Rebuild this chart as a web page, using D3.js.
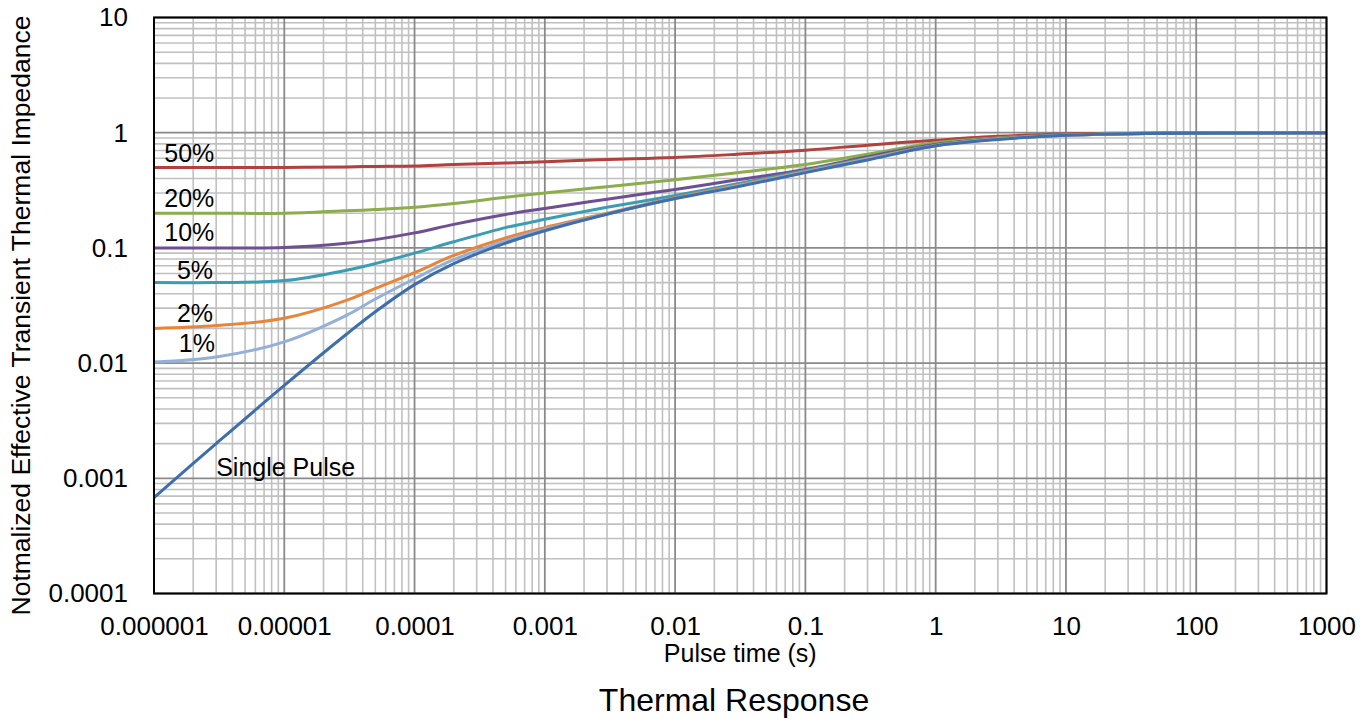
<!DOCTYPE html>
<html>
<head>
<meta charset="utf-8">
<script src="https://cdn.jsdelivr.net/npm/d3@7"></script>
<style>
  html, body { margin: 0; padding: 0; background: #fff; }
  svg { display: block; font-family: "Liberation Sans", Arial, sans-serif; }
</style>
</head>
<body>
<svg id="chart" width="1370" height="722"></svg>
<script>
// Pulse times (s) at which the curves are sampled
const pulseTimes = [1e-6, 3e-6, 1e-5, 3e-5, 5e-5, 1e-4, 2e-4, 5e-4, 1e-3, 3e-3, 1e-2, 3e-2, 0.1, 0.3, 1, 3, 10, 30, 100, 1000];

// Normalized effective transient thermal impedance per duty cycle
const duty50 = [0.5, 0.5, 0.5, 0.505, 0.51, 0.515, 0.53, 0.545, 0.56, 0.585, 0.61, 0.65, 0.705, 0.78, 0.86, 0.93, 0.975, 0.99, 1.0, 1.0];
const duty20 = [0.2, 0.2, 0.2, 0.21, 0.215, 0.225, 0.243, 0.275, 0.3, 0.34, 0.39, 0.45, 0.53, 0.65, 0.82, 0.9, 0.96, 0.985, 0.995, 1.0];
const duty10 = [0.1, 0.1, 0.101, 0.11, 0.118, 0.135, 0.16, 0.195, 0.22, 0.265, 0.322, 0.39, 0.48, 0.62, 0.79, 0.89, 0.955, 0.98, 0.992, 1.0];
const duty5  = [0.05, 0.05, 0.052, 0.064, 0.073, 0.09, 0.113, 0.15, 0.177, 0.225, 0.285, 0.36, 0.47, 0.6, 0.78, 0.885, 0.952, 0.98, 0.99, 1.0];
const duty2  = [0.02, 0.0212, 0.0245, 0.035, 0.0445, 0.061, 0.086, 0.122, 0.15, 0.2, 0.272, 0.35, 0.46, 0.595, 0.775, 0.882, 0.95, 0.98, 0.99, 1.0];
const duty1  = [0.0102, 0.0113, 0.0153, 0.026, 0.036, 0.054, 0.079, 0.115, 0.145, 0.197, 0.268, 0.345, 0.455, 0.59, 0.772, 0.88, 0.95, 0.98, 0.99, 1.0];
const singlePulse = [0.00068, 0.002, 0.0064, 0.0178, 0.0279, 0.048, 0.073, 0.11, 0.141, 0.196, 0.268, 0.34, 0.45, 0.58, 0.77, 0.875, 0.95, 0.98, 0.99, 1.0];

const seriesNames = ["50%", "20%", "10%", "5%", "2%", "1%", "Single Pulse"];
const seriesValues = [duty50, duty20, duty10, duty5, duty2, duty1, singlePulse];
const seriesColors = ["#b2403d", "#8bad4b", "#6e4f94", "#3a9db3", "#e8853b", "#93b0d8", "#3e6eab"];

// Axis tick values and their printed labels
const xTickValues = [1e-6, 1e-5, 1e-4, 1e-3, 1e-2, 0.1, 1, 10, 100, 1000];
const xTickLabels = ["0.000001", "0.00001", "0.0001", "0.001", "0.01", "0.1", "1", "10", "100", "1000"];
const yTickValues = [1e-4, 1e-3, 1e-2, 0.1, 1, 10];
const yTickLabels = ["0.0001", "0.001", "0.01", "0.1", "1", "10"];

const titleText = "Thermal Response";
const xTitleText = "Pulse time (s)";
const yTitleText = "Notmalized Effective Transient Thermal Impedance";

// ---- layout ----
const svg = d3.select("#chart");
const plot = { left: 154, right: 1326.5, top: 17.5, bottom: 593.5 };

const x = d3.scaleLog().domain([1e-6, 1000]).range([plot.left, plot.right]);
const y = d3.scaleLog().domain([1e-4, 10]).range([plot.bottom, plot.top]);

// minor/major grid values (1..9 per decade)
function logGrid(domain) {
  const minor = [], major = [];
  const lo = Math.round(Math.log10(domain[0])), hi = Math.round(Math.log10(domain[1]));
  for (let e = lo; e <= hi; e++) {
    major.push(Math.pow(10, e));
    if (e < hi) for (let k = 2; k <= 9; k++) minor.push(k * Math.pow(10, e));
  }
  return { minor, major };
}
const gx = logGrid(x.domain());
const gy = logGrid(y.domain());

const grid = svg.append("g").attr("class", "grid");
grid.selectAll("line.xminor").data(gx.minor).join("line")
  .attr("x1", d => x(d)).attr("x2", d => x(d))
  .attr("y1", plot.top).attr("y2", plot.bottom)
  .attr("stroke", "#c0c0c0").attr("stroke-width", 1.6);
grid.selectAll("line.yminor").data(gy.minor).join("line")
  .attr("y1", d => y(d)).attr("y2", d => y(d))
  .attr("x1", plot.left).attr("x2", plot.right)
  .attr("stroke", "#c0c0c0").attr("stroke-width", 1.6);
grid.selectAll("line.xmajor").data(gx.major).join("line")
  .attr("x1", d => x(d)).attr("x2", d => x(d))
  .attr("y1", plot.top).attr("y2", plot.bottom)
  .attr("stroke", "#8a8a8a").attr("stroke-width", 1.8);
grid.selectAll("line.ymajor").data(gy.major).join("line")
  .attr("y1", d => y(d)).attr("y2", d => y(d))
  .attr("x1", plot.left).attr("x2", plot.right)
  .attr("stroke", "#8a8a8a").attr("stroke-width", 1.8);

// ---- curves ----
const line = d3.line()
  .x(d => x(d[0]))
  .y(d => y(d[1]))
  .curve(d3.curveCatmullRom.alpha(0.5));

const curves = svg.append("g").attr("class", "curves");
seriesValues.forEach((vals, i) => {
  curves.append("path")
    .datum(pulseTimes.map((t, j) => [t, vals[j]]))
    .attr("fill", "none")
    .attr("stroke", seriesColors[i])
    .attr("stroke-width", 3)
    .attr("stroke-linejoin", "round")
    .attr("d", line);
});

// ---- plot frame ----
svg.append("rect")
  .attr("x", plot.left).attr("y", plot.top)
  .attr("width", plot.right - plot.left).attr("height", plot.bottom - plot.top)
  .attr("fill", "none").attr("stroke", "#000").attr("stroke-width", 2);

// ---- axes ----
const xAxis = d3.axisBottom(x)
  .tickValues(xTickValues)
  .tickFormat((d, i) => xTickLabels[i])
  .tickSize(0).tickPadding(23);
const xg = svg.append("g").attr("transform", `translate(0,${plot.bottom})`).call(xAxis);
xg.select(".domain").remove();
xg.selectAll("text").attr("font-size", 26).attr("fill", "#000")
  .attr("font-family", "Liberation Sans, Arial, sans-serif");

const yAxis = d3.axisLeft(y)
  .tickValues(yTickValues)
  .tickFormat((d, i) => yTickLabels[i])
  .tickSize(0).tickPadding(26);
const yg = svg.append("g").attr("transform", `translate(${plot.left},0)`).call(yAxis);
yg.select(".domain").remove();
yg.selectAll("text").attr("font-size", 26).attr("fill", "#000")
  .attr("font-family", "Liberation Sans, Arial, sans-serif");

// ---- series labels ----
const labelSpec = [
  { name: "50%", t: 1.2e-6, v: duty50[0], dy: -5 },
  { name: "20%", t: 1.2e-6, v: duty20[0], dy: -6 },
  { name: "10%", t: 1.2e-6, v: duty10[0], dy: -7 },
  { name: "5%", t: 1.5e-6, v: duty5[0], dy: -4 },
  { name: "2%", t: 1.5e-6, v: duty2[0], dy: -6 },
  { name: "1%", t: 1.55e-6, v: duty1[0], dy: -10 },
  { name: "Single Pulse", t: 3e-6, v: 1e-3, dy: -2 }
];
svg.append("g").selectAll("text").data(labelSpec).join("text")
  .attr("x", d => x(d.t))
  .attr("y", d => y(d.v) + d.dy)
  .attr("font-size", 25)
  .attr("fill", "#000")
  .text(d => d.name);

// ---- titles ----
svg.append("text")
  .attr("x", (plot.left + plot.right) / 2).attr("y", 662)
  .attr("text-anchor", "middle").attr("font-size", 25).attr("fill", "#000")
  .text(xTitleText);

svg.append("text")
  .attr("transform", `translate(30,${(plot.top + plot.bottom) / 2 + 10}) rotate(-90)`)
  .attr("text-anchor", "middle").attr("font-size", 26.5).attr("fill", "#000")
  .text(yTitleText);

svg.append("text")
  .attr("x", 734).attr("y", 711)
  .attr("text-anchor", "middle").attr("font-size", 32).attr("fill", "#000")
  .text(titleText);
</script>
</body>
</html>
